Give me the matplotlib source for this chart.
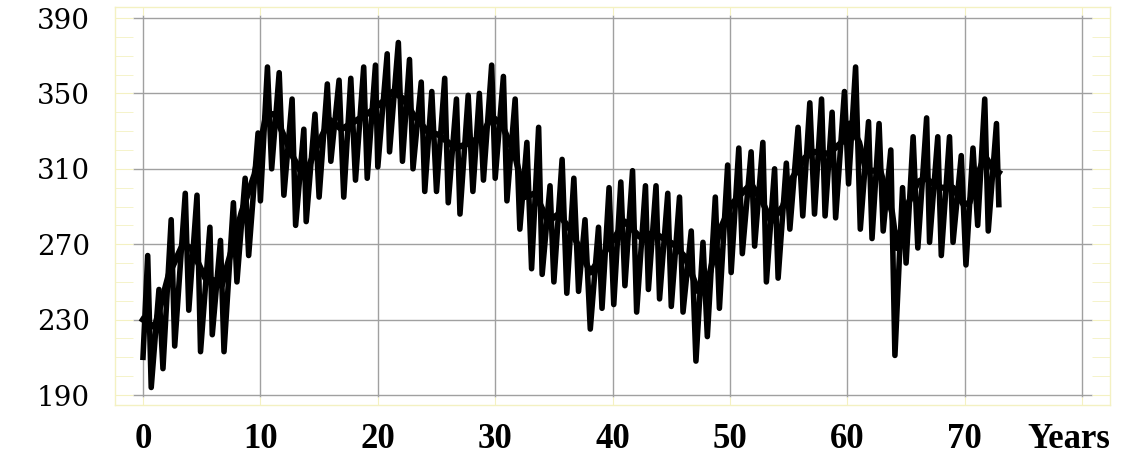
import matplotlib.pyplot as plt
import matplotlib.transforms as mtransforms

# raw series: alternating seasonal peaks / troughs (years, value)
raw_years = [0.0, 0.4, 0.7, 1.36, 1.7, 2.4, 2.7, 3.6, 3.9, 4.6, 4.9, 5.7, 5.9, 6.6, 6.9,
             7.7, 8.0, 8.7, 9.0, 9.8, 10.0, 10.6, 10.96, 11.6, 12.0, 12.7, 13.0, 13.7, 13.9,
             14.65, 15.0, 15.7, 16.0, 16.7, 17.1, 17.7, 18.1, 18.8, 19.1, 19.8, 20.0, 20.8,
             21.0, 21.75, 22.1, 22.7, 23.0, 23.7, 24.0, 24.6, 25.0, 25.7, 26.0, 26.7, 27.0,
             27.7, 28.1, 28.65, 29.0, 29.7, 30.0, 30.7, 31.0, 31.7, 32.1, 32.7, 33.1, 33.7,
             34.0, 34.67, 35.0, 35.7, 36.1, 36.7, 37.1, 37.65, 38.1, 38.8, 39.1, 39.7, 40.1,
             40.7, 41.05, 41.7, 42.05, 42.8, 43.05, 43.7, 44.0, 44.7, 45.0, 45.7, 46.0, 46.7,
             47.1, 47.7, 48.07, 48.75, 49.1, 49.8, 50.1, 50.75, 51.05, 51.8, 52.1, 52.8, 53.1,
             53.8, 54.1, 54.8, 55.1, 55.8, 56.2, 56.8, 57.2, 57.8, 58.1, 58.7, 59.0, 59.75,
             60.1, 60.7, 61.1, 61.8, 62.1, 62.7, 63.05, 63.7, 64.05, 64.7, 65.0, 65.6, 66.0,
             66.75, 67.0, 67.7, 68.0, 68.7, 69.0, 69.7, 70.1, 70.7, 71.1, 71.7, 72.0, 72.7, 72.9]
raw_values = [210, 264, 194, 246, 204, 283, 216, 297, 235, 296, 213, 279, 222, 272, 213,
              292, 250, 305, 264, 329, 293, 364, 310, 361, 296, 347, 280, 331, 282,
              339, 295, 355, 314, 357, 295, 358, 304, 364, 305, 365, 311, 371,
              319, 377, 314, 368, 310, 356, 298, 351, 298, 358, 292, 347, 286,
              349, 298, 350, 304, 365, 305, 359, 293, 347, 278, 324, 257, 332,
              254, 301, 250, 315, 244, 305, 245, 283, 225, 279, 236, 300, 238,
              303, 248, 309, 234, 301, 246, 301, 241, 297, 237, 295, 234, 277,
              208, 271, 221, 295, 236, 312, 255, 321, 265, 319, 269, 324, 250,
              310, 252, 313, 278, 332, 285, 345, 286, 347, 285, 340, 284, 351,
              302, 364, 278, 335, 273, 334, 277, 320, 211, 300, 260, 327, 268,
              337, 271, 327, 264, 327, 271, 317, 259, 321, 280, 347, 277, 334, 291]

# smoothed curve
smooth_years = [0.0, 1.0, 2.2, 3.4, 4.1, 5.3, 6.0, 6.7, 7.6, 8.4, 9.5, 10.5, 11.2, 12.1,
                12.8, 13.4, 14.1, 14.9, 15.9, 16.9, 18.0, 19.3, 20.5, 21.3, 22.2, 23.0,
                24.2, 25.2, 26.6, 28.0, 28.9, 29.7, 30.6, 31.7, 32.5, 33.4, 34.5, 35.4,
                36.5, 38.1, 39.8, 41.05, 42.3, 43.5, 45.2, 46.2, 47.3, 48.3, 49.1, 50.1,
                51.0, 51.8, 52.8, 53.5, 54.5, 55.3, 56.4, 57.2, 58.4, 59.5, 60.2, 61.0,
                61.6, 62.8, 63.8, 64.2, 65.0, 66.0, 66.6, 67.9, 69.0, 69.9, 70.4, 71.3,
                71.7, 72.4, 72.9]
smooth_values = [230, 226, 254, 270, 268, 252, 251, 248, 268, 287, 307, 339, 339, 326,
                 316, 309, 311, 323, 336, 331, 335, 340, 346, 351, 347, 339,
                 330, 328, 321, 324, 328, 338, 333, 317, 295, 297, 282, 286,
                 277, 255, 270, 282, 274, 276, 270, 263, 245, 255, 277, 291,
                 297, 302, 292, 282, 290, 305, 316, 319, 318, 324, 334, 324,
                 309, 309, 287, 268, 289, 303, 305, 300, 300, 291, 292, 310,
                 317, 310, 308]

y_ticks = [190, 230, 270, 310, 350, 390]
x_ticks = [0, 10, 20, 30, 40, 50, 60, 70, 80]
x_labels = ['0', '10', '20', '30', '40', '50', '60', '70', 'Years']

frame_color = '#f4f1c2'
grid_color = '#a0a0a0'

fig = plt.figure(figsize=(11.22, 4.59), dpi=100)
ax = fig.add_axes([0.1025, 0.1176, 0.8868, 0.867])

# grid (limited to the inner box, like the original)
ax.hlines(y_ticks, -0.85, 80.8, color=grid_color, linewidth=1.0, zorder=1)
ax.vlines(x_ticks, 189, 391.6, color=grid_color, linewidth=1.0, zorder=1)

ax.plot(raw_years, raw_values, color='black', linewidth=4.0, solid_joinstyle='round', zorder=2)
ax.plot(smooth_years, smooth_values, color='black', linewidth=4.5, solid_joinstyle='round', zorder=3)

ax.set_xlim(-2.385, 82.37)
ax.set_ylim(184.7, 395.8)

for s in ax.spines.values():
    s.set_color(frame_color)
    s.set_linewidth(1.0)

ax.set_yticks(y_ticks)
ax.set_yticks(range(190, 391, 10), minor=True)
ax.set_xticks(x_ticks)
ax.set_xticklabels(x_labels)
ax.tick_params(axis='y', which='both', direction='in', length=13, color=frame_color,
               left=True, right=True, pad=18)
ax.tick_params(axis='x', which='both', direction='in', length=6, color=frame_color,
               top=True, bottom=True, pad=13)

for lbl in ax.get_yticklabels():
    lbl.set_fontfamily('DejaVu Serif')
    lbl.set_fontsize(20)
for lbl in ax.get_xticklabels():
    lbl.set_fontfamily('Liberation Serif')
    lbl.set_fontweight('bold')
    lbl.set_fontsize(25)

# nudge "Years" so it stays inside the figure
years_lbl = ax.get_xticklabels()[-1]
years_lbl.set_transform(years_lbl.get_transform() +
                        mtransforms.ScaledTranslation(-0.13, 0, fig.dpi_scale_trans))

plt.savefig('out.png', dpi=100)
